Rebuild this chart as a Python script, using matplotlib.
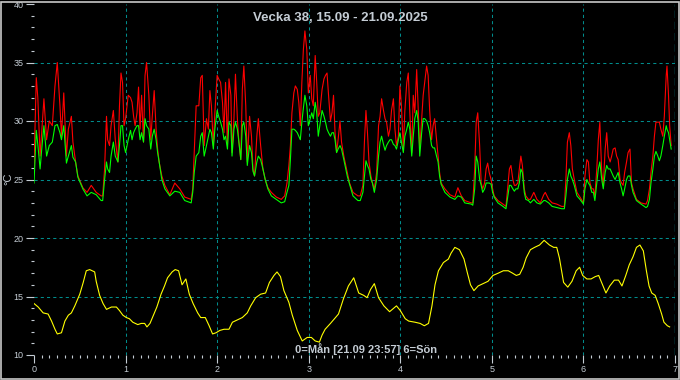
import numpy as np
import matplotlib
matplotlib.use("Agg")
import matplotlib.pyplot as plt
from matplotlib.patches import Rectangle
from matplotlib.ticker import MultipleLocator

# tid i timmar fran mandag 00:00 (rod/gron kurva)
tid_rg = [0.0, 0.3, 0.6, 1.0, 1.6, 2.0, 2.6, 3.3, 4.0, 4.8, 5.5, 6.1, 6.8, 7.2, 7.8, 8.5, 9.0, 9.8, 10.2, 10.9,
          11.5, 12.8, 13.9, 15.0, 16.3, 17.6, 18.0, 18.5, 19.0, 19.3, 19.8, 20.2, 20.8, 21.3, 22.0, 22.4, 22.8, 23.2, 23.6,
          24.0, 24.7, 25.3, 25.7, 26.1, 26.5, 27.0, 27.4, 27.8, 28.2, 28.7, 29.1, 29.5, 30.1, 30.6, 31.0, 31.5, 32.0, 32.4, 32.8,
          33.5, 34.3, 35.6, 36.9, 38.2, 39.5, 41.2, 41.6, 42.0, 42.5, 43.2, 43.7, 44.1, 44.6, 45.2, 45.7, 46.1, 46.5, 47.0, 47.4,
          48.0, 48.4, 48.9, 49.4, 49.8, 50.2, 50.7, 51.1, 51.6, 51.9, 52.4, 52.8, 53.3, 53.7, 54.2, 54.6, 55.0, 55.5, 55.9, 56.5,
          57.0, 57.4, 57.8, 58.4, 58.8, 59.4, 60.0, 60.6, 61.3, 62.2, 63.5, 64.8, 65.7, 66.3, 66.8, 67.2, 67.6, 68.1, 68.5, 69.0,
          69.4, 69.8, 70.2, 70.6, 71.0, 71.5, 71.9,
          72.4, 72.8, 73.2, 73.7, 74.1, 74.5, 74.9, 75.5, 76.0, 76.4, 76.8, 77.2, 77.7, 78.1, 78.5, 78.9, 79.3, 79.7, 80.2, 80.6,
          81.2, 81.7, 82.1, 82.7, 83.6, 84.9, 85.5, 86.2, 86.6, 87.0, 87.4, 87.8, 88.3, 88.7, 89.2, 89.8, 90.3, 90.7, 91.1, 91.6,
          92.0, 92.4, 92.9, 93.3, 93.7, 94.2, 94.6, 95.0, 95.5, 95.9,
          96.3, 96.8, 97.2, 97.7, 98.1, 98.5, 99.0, 99.4, 99.8, 100.3, 100.7, 101.1, 101.6, 102.0, 102.4, 102.9, 103.3, 103.7,
          104.2, 104.6, 105.0, 105.5, 105.9, 106.3, 106.7, 107.7, 109.0, 110.3, 111.1, 112.0, 112.9, 114.6, 115.0, 115.5, 115.9,
          116.3, 116.8, 117.2, 117.6, 118.1, 118.5, 118.9, 119.3, 119.8,
          120.2, 120.6, 121.6, 122.9, 123.7, 124.2, 124.6, 125.0, 125.5, 125.9, 126.3, 126.8, 127.2, 127.6, 128.0, 128.5, 128.9,
          129.6, 130.1, 131.0, 131.8, 132.7, 133.6, 134.0, 134.9, 135.8, 137.0, 138.3, 139.0, 139.4, 139.8, 140.3, 140.7, 141.1,
          141.6, 142.3, 143.1,
          144.0, 144.4, 144.9, 145.3, 145.7, 146.2, 146.6, 147.0, 147.5, 147.9, 148.3, 148.8, 149.2, 149.7, 150.1, 150.5, 151.0,
          151.4, 151.8, 152.3, 152.7, 153.1, 153.6, 154.0, 154.4, 154.8, 155.3, 155.7, 156.2, 156.6, 157.0, 157.9, 159.1, 160.4,
          160.8, 161.3, 161.7, 162.2, 162.6, 163.0, 163.5, 163.9, 164.3, 164.8, 165.2, 165.7, 165.9, 166.3, 166.6, 167.0]

temp_rod = [26.0, 30.0, 33.7, 32.0, 27.0, 29.0, 31.9, 28.4, 30.0, 29.6, 33.0, 35.0, 31.3, 28.7, 32.4, 27.0, 29.3, 30.4, 28.2, 26.5,
            25.3, 24.3, 23.9, 24.5, 23.9, 23.6, 23.6, 25.9, 30.4, 28.4, 27.9, 29.6, 30.9, 28.4, 26.5, 31.3, 34.1, 33.3, 29.6,
            30.2, 32.2, 32.0, 31.6, 30.4, 29.6, 30.7, 32.9, 29.3, 32.2, 28.2, 33.9, 35.0, 32.2, 28.4, 30.4, 32.6, 29.3, 27.6, 26.5,
            25.3, 24.5, 23.7, 24.7, 24.2, 23.5, 23.3, 24.2, 27.3, 31.3, 31.3, 33.7, 33.9, 27.9, 30.2, 29.3, 32.6, 31.3, 27.9, 30.7,
            33.9, 33.6, 33.3, 31.6, 29.0, 33.3, 27.9, 33.6, 32.2, 27.3, 30.2, 34.0, 30.2, 28.2, 26.7, 32.7, 34.7, 31.3, 26.5, 30.4,
            28.7, 25.9, 25.3, 28.7, 30.2, 27.9, 25.9, 25.0, 24.3, 23.9, 23.5, 23.3, 23.6, 24.7, 26.2, 27.9, 30.7, 32.4, 33.0, 32.7,
            31.6, 29.6, 33.3, 36.1, 37.7, 36.1, 32.4,
            33.9, 31.9, 31.3, 35.6, 33.3, 30.4, 30.7, 32.7, 33.6, 33.9, 34.1, 32.2, 30.0, 30.7, 32.2, 29.0, 27.3, 28.4, 30.0, 28.2,
            27.0, 26.2, 25.6, 24.7, 23.9, 23.6, 23.6, 24.5, 28.2, 30.9, 29.0, 26.5, 25.3, 24.7, 24.2, 25.6, 29.6, 30.4, 31.9, 30.9,
            30.2, 29.9, 28.7, 29.3, 30.9, 31.9, 29.3, 27.9, 28.7, 33.0,
            31.3, 27.6, 30.9, 33.3, 34.1, 30.7, 27.3, 32.2, 30.7, 34.4, 30.9, 27.6, 30.2, 32.2, 33.3, 34.7, 33.9, 30.9,
            28.4, 29.6, 30.2, 28.4, 27.0, 25.6, 24.7, 24.2, 23.7, 23.5, 24.3, 23.6, 23.2, 23.0, 23.0, 25.9, 29.9,
            30.7, 27.9, 24.7, 24.2, 24.7, 25.9, 26.4, 25.6, 25.0,
            24.2, 23.6, 23.2, 22.9, 22.7, 24.5, 25.9, 26.2, 25.0, 24.5, 24.5, 24.7, 25.9, 27.0, 26.2, 24.2, 23.6,
            23.3, 23.3, 23.9, 23.3, 23.0, 23.7, 23.9, 23.3, 23.0, 22.9, 22.7, 22.7, 25.0, 28.2, 29.0, 27.9, 25.9,
            25.0, 23.9, 23.5,
            23.0, 25.3, 26.7, 26.5, 24.7, 24.2, 24.2, 23.6, 25.9, 28.4, 29.9, 25.6, 24.5, 27.6, 29.0, 27.0, 26.5,
            27.0, 27.6, 27.7, 27.0, 26.7, 25.0, 24.7, 24.5, 25.6, 26.5, 27.3, 27.6, 24.7, 24.2, 23.3, 23.0, 22.9,
            23.2, 24.2, 25.6, 27.0, 28.7, 29.9, 29.9, 29.9, 29.3, 28.7, 30.4, 33.9, 34.7, 32.2, 29.6, 27.9]

temp_gron = [24.7, 27.0, 29.2, 28.0, 25.9, 27.5, 29.6, 27.0, 27.9, 28.2, 29.6, 29.7, 29.0, 28.4, 29.6, 26.4, 27.0, 27.9, 26.9, 26.5,
             25.2, 24.2, 23.6, 23.9, 23.7, 23.2, 23.2, 25.0, 26.5, 25.9, 25.6, 27.0, 28.2, 27.0, 26.5, 27.9, 29.6, 29.6, 27.9,
             27.3, 28.4, 29.2, 28.4, 29.0, 29.3, 29.6, 29.6, 28.4, 29.0, 28.2, 30.2, 29.6, 29.3, 27.6, 28.7, 29.3, 28.4, 27.3, 26.5,
             25.0, 24.2, 23.6, 24.0, 23.9, 23.2, 23.0, 23.9, 25.6, 27.0, 27.3, 28.7, 29.0, 27.0, 27.9, 28.7, 29.3, 29.0, 27.6, 29.3,
             30.9, 30.4, 29.9, 29.3, 28.4, 28.7, 27.6, 29.9, 29.6, 27.0, 29.3, 29.9, 29.3, 28.2, 26.7, 29.6, 29.9, 28.7, 26.2, 27.9,
             27.3, 25.7, 25.3, 26.5, 27.0, 26.7, 25.9, 25.0, 24.2, 23.6, 23.3, 23.0, 23.1, 23.9, 24.5, 26.7, 29.3, 29.3, 29.2, 29.0,
             28.7, 28.4, 29.9, 31.1, 32.2, 31.3, 29.6,
             30.2, 30.7, 30.2, 31.6, 30.7, 28.7, 29.6, 30.9, 30.4, 29.9, 29.3, 29.0, 28.7, 29.0, 29.0, 28.4, 27.3, 27.6, 27.9, 27.6,
             26.7, 25.9, 25.3, 24.6, 23.6, 23.2, 23.2, 23.9, 25.3, 26.6, 26.2, 25.9, 25.0, 24.7, 23.9, 25.0, 27.0, 28.2, 28.7, 28.0,
             27.5, 27.9, 28.2, 28.4, 28.4, 28.0, 27.9, 27.6, 28.4, 29.0,
             28.2, 27.3, 28.7, 29.3, 29.9, 29.3, 27.0, 28.7, 30.2, 30.9, 29.9, 27.0, 29.0, 30.2, 30.2, 30.0, 29.6, 29.0,
             27.9, 27.7, 27.7, 27.0, 26.5, 25.3, 24.6, 23.9, 23.5, 23.3, 23.6, 23.5, 23.0, 22.9, 22.8, 24.2, 27.0,
             26.5, 25.0, 24.5, 23.9, 24.2, 24.7, 24.7, 24.7, 24.6,
             23.9, 23.5, 23.0, 22.7, 22.5, 23.6, 24.5, 24.5, 24.2, 24.0, 24.2, 24.2, 24.7, 25.9, 25.6, 23.9, 23.3,
             23.2, 23.0, 23.3, 23.0, 22.9, 23.2, 23.2, 23.0, 22.7, 22.6, 22.5, 22.5, 23.6, 25.0, 25.9, 25.3, 25.0,
             24.5, 23.6, 23.3,
             22.9, 24.2, 25.0, 24.7, 24.5, 23.9, 23.9, 23.2, 24.7, 25.9, 26.5, 25.0, 24.2, 25.6, 26.2, 25.9, 25.9,
             25.6, 25.3, 25.0, 25.3, 25.6, 24.7, 24.2, 23.6, 24.2, 25.0, 25.3, 25.3, 24.5, 23.9, 23.2, 22.9, 22.6,
             22.7, 23.3, 24.7, 25.9, 27.0, 27.4, 27.0, 26.6, 27.0, 27.9, 28.7, 29.6, 29.3, 29.0, 28.4, 27.6]

# gul kurva
tid_gul = [0.0, 1.1, 2.4, 3.7, 4.6, 5.5, 6.1, 7.2, 8.1, 9.0, 9.8, 10.7, 12.0, 12.9, 13.7, 14.6, 15.9, 16.3, 17.2, 18.1,
           19.0, 20.3, 21.6, 22.4, 23.3, 24.2, 25.0, 25.9, 27.2, 28.1, 29.0, 29.6, 30.4, 31.3, 32.2, 33.3, 34.2, 35.0, 36.2, 37.0,
           37.9, 38.8, 39.8, 40.7, 41.7, 42.9, 43.7, 44.9, 45.9, 46.8, 47.7, 48.7, 49.8, 51.1, 52.0, 53.3, 54.6, 55.9, 56.8, 58.1,
           59.4, 60.7, 61.7, 62.9, 63.7, 64.6, 65.5, 66.8, 67.7, 69.0, 70.3, 71.6, 72.7, 73.7, 74.8, 75.5, 76.3, 77.7, 79.0, 79.8,
           81.1, 82.4, 83.8, 85.1, 86.4, 87.3, 88.2, 89.2, 90.3, 91.7, 93.2, 95.0, 96.0, 97.3, 98.2, 99.9, 101.2, 102.3, 103.4, 104.3,
           105.1, 106.0, 107.3, 108.6, 109.3, 110.3, 111.5, 112.7, 113.6, 114.4, 115.3, 116.4, 117.7, 119.0, 120.3, 121.7, 123.0,
           124.3, 125.4, 126.4, 127.3, 128.2, 129.0, 130.1, 131.2, 132.5, 133.7, 134.4, 135.1, 136.2, 137.0, 137.7, 138.8, 139.9,
           141.0, 142.1, 143.0, 143.8, 144.9, 146.0, 147.1, 148.0, 149.0, 149.9, 150.9, 152.1, 153.2, 154.1, 155.1, 156.0, 157.0,
           157.9, 158.8, 159.7, 160.5, 161.2, 161.9, 162.8, 163.6, 164.5, 165.1, 166.0, 166.6]

temp_gul = [14.4, 14.1, 13.6, 13.5, 12.9, 12.2, 11.8, 11.9, 12.9, 13.4, 13.6, 14.2, 15.2, 16.2, 17.2, 17.3, 17.1, 16.3, 15.1, 14.4,
            13.9, 14.1, 14.1, 13.8, 13.4, 13.2, 13.1, 12.8, 12.6, 12.7, 12.7, 12.4, 12.7, 13.4, 14.1, 15.2, 15.9, 16.6, 17.1, 17.3,
            17.2, 16.0, 16.5, 15.2, 14.4, 13.6, 13.2, 13.2, 12.5, 11.8, 11.9, 12.1, 12.2, 12.2, 12.8, 13.0, 13.2, 13.6, 14.2, 14.9,
            15.2, 15.3, 16.2, 16.8, 17.1, 16.7, 15.5, 14.5, 13.4, 12.1, 11.2, 11.5, 11.5, 11.2, 11.1, 11.7, 12.2, 12.7, 13.2, 13.5,
            14.8, 15.9, 16.6, 15.3, 15.1, 14.9, 15.6, 16.1, 14.9, 14.2, 13.7, 14.2, 13.8, 13.1, 12.9, 12.8, 12.7, 12.5, 12.7, 14.2,
            16.0, 17.2, 17.9, 18.2, 18.7, 19.2, 19.0, 18.2, 17.0, 16.0, 15.5, 15.9, 16.1, 16.3, 16.8, 17.0, 17.2,
            17.2, 17.0, 16.8, 16.9, 17.5, 18.3, 19.0, 19.2, 19.4, 19.8, 19.6, 19.4, 19.2, 19.2, 18.3, 16.2, 15.8,
            16.3, 17.2, 17.5, 16.8, 16.5, 16.5, 16.7, 16.8, 16.0, 15.3, 15.9, 16.4, 16.4, 15.9, 16.8, 17.7, 18.4,
            19.2, 19.4, 18.9, 17.2, 15.9, 15.3, 15.1, 14.4, 13.5, 12.8, 12.5, 12.4]

titel = "Vecka 38, 15.09 - 21.09.2025"
info = "0=Mån [21.09 23:57] 6=Sön"
nu_dag = 6 + (23 + 57 / 60) / 24

plt.rcParams['font.family'] = ['Liberation Sans', 'DejaVu Sans']

fig = plt.figure(figsize=(6.8, 3.8), dpi=100, facecolor='black')
ax = fig.add_axes([34 / 680, 1 - 355 / 380, 641 / 680, 351 / 380], facecolor='black')

gridfarg = '#008c8c'
textfarg = '#c4ccd4'

ax.plot(np.array(tid_rg) / 24, temp_rod, color='#ff0000', lw=0.8)
ax.plot(np.array(tid_rg) / 24, temp_gron, color='#00ff00', lw=0.8)
ax.plot(np.array(tid_gul) / 24, temp_gul, color='#ffff00', lw=0.8)

ax.set_xlim(0, 7)
ax.set_ylim(10, 40)
ax.xaxis.set_major_locator(MultipleLocator(1))
ax.xaxis.set_minor_locator(MultipleLocator(1 / 12))
ax.yaxis.set_major_locator(MultipleLocator(5))
ax.yaxis.set_minor_locator(MultipleLocator(1))

for s in ax.spines.values():
    s.set_visible(False)

ax.tick_params(which='both', colors=textfarg, direction='out', width=0.8)
ax.tick_params(which='major', length=6, labelsize=6.5, pad=1.5)
ax.tick_params(which='minor', length=2.5)

# rutnat, ej vid kanterna
for d in range(1, 7):
    ax.axvline(d, color=gridfarg, lw=0.75, ls=(0, (3, 3)), zorder=0)
for t in range(15, 40, 5):
    ax.axhline(t, color=gridfarg, lw=0.75, ls=(0, (3, 3)), zorder=0)
ax.axvline(nu_dag, color='#00e5f0', lw=0.9, ls=(0, (6, 3)), zorder=3)

fig.text(0.5, 1 - 18 / 380, titel, ha='center', va='center', color=textfarg,
         fontsize=9.5, fontweight='bold')
fig.text(366.5 / 680, 1 - 349 / 380, info, ha='center', va='center', color=textfarg,
         fontsize=8, fontweight='bold')
fig.text(8 / 680, 1 - 179 / 380, '°C', ha='center', va='center', rotation=90,
         color=textfarg, fontsize=8)

fig.patches.append(Rectangle((0.5 / 680, 1.5 / 380), 678 / 680, 377 / 380, transform=fig.transFigure,
                             fill=False, edgecolor='#c8c8c8', lw=1.2))

fig.savefig('out.png', dpi=100, facecolor='black')
